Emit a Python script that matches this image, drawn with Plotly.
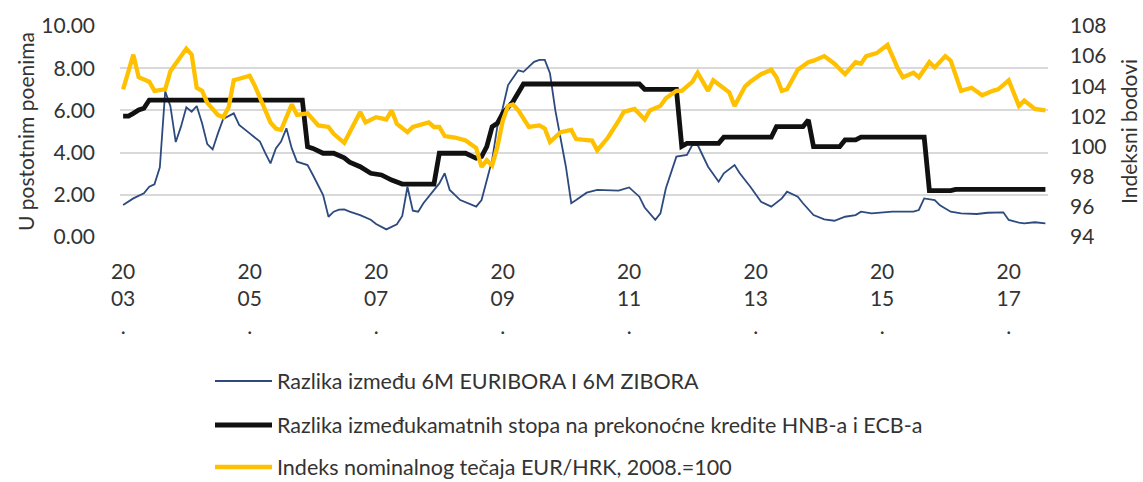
import plotly.graph_objects as go

# ---------------- data ----------------
blue_name = "Razlika između 6M EURIBORA I 6M ZIBORA"
blue_dates = ["2003-01", "2003-03", "2003-05", "2003-06", "2003-07", "2003-08", "2003-09", "2003-10",
              "2003-11", "2003-12", "2004-01", "2004-02", "2004-03", "2004-04", "2004-05", "2004-06",
              "2004-07", "2004-08", "2004-10", "2004-11", "2005-01", "2005-03", "2005-04", "2005-05",
              "2005-06", "2005-07", "2005-08", "2005-09", "2005-10", "2005-12", "2006-01", "2006-03",
              "2006-04", "2006-05", "2006-06", "2006-07", "2006-08", "2006-10", "2006-12", "2007-01",
              "2007-03", "2007-05", "2007-06", "2007-07", "2007-08", "2007-09", "2007-10", "2007-12",
              "2008-01", "2008-02", "2008-03", "2008-05", "2008-07", "2008-08", "2008-09", "2008-11",
              "2008-12", "2009-01", "2009-02", "2009-04", "2009-05", "2009-07", "2009-08", "2009-09",
              "2009-10", "2009-11", "2010-01", "2010-02", "2010-03", "2010-05", "2010-07", "2010-11",
              "2011-01", "2011-03", "2011-04", "2011-06", "2011-07", "2011-08", "2011-10", "2011-12",
              "2012-01", "2012-02", "2012-04", "2012-06", "2012-07", "2012-09", "2012-10", "2012-12",
              "2013-02", "2013-04", "2013-06", "2013-07", "2013-09", "2013-10", "2013-12", "2014-02",
              "2014-04", "2014-06", "2014-08", "2014-09", "2014-11", "2015-01", "2015-03", "2015-07",
              "2015-08", "2015-09", "2015-11", "2015-12", "2016-02", "2016-04", "2016-07", "2016-09",
              "2016-12", "2017-01", "2017-03", "2017-04", "2017-06", "2017-08"]
blue_vals = [1.52, 1.83, 2.07, 2.38, 2.5, 3.3, 6.9, 6.2,
             4.5, 5.23, 6.15, 5.94, 6.21, 5.39, 4.4, 4.15,
             4.9, 5.6, 5.86, 5.31, 4.91, 4.52, 3.97, 3.49,
             4.20, 4.52, 5.15, 4.20, 3.57, 3.41, 2.94, 1.99,
             0.96, 1.2, 1.3, 1.31, 1.20, 1.04, 0.82, 0.62,
             0.36, 0.6, 1.0, 2.38, 1.25, 1.2, 1.6, 2.23,
             2.54, 3.02, 2.23, 1.75, 1.52, 1.44, 1.75, 3.65,
             5.23, 6.1, 7.2, 7.9, 7.83, 8.3, 8.39, 8.39,
             7.76, 6.0, 3.33, 1.6, 1.75, 2.1, 2.23, 2.20,
             2.35, 1.91, 1.4, 0.81, 1.12, 2.3, 3.81, 3.89,
             4.36, 4.36, 3.33, 2.62, 3.02, 3.41, 3.02, 2.38,
             1.67, 1.44, 1.83, 2.15, 1.91, 1.6, 1.04, 0.84,
             0.77, 0.96, 1.04, 1.2, 1.12, 1.15, 1.2, 1.2,
             1.28, 1.83, 1.75, 1.5, 1.2, 1.12, 1.09, 1.15,
             1.17, 0.81, 0.68, 0.65, 0.70, 0.65]

black_name = "Razlika izmeđukamatnih stopa na prekonoćne kredite HNB-a i ECB-a"
black_dates = ["2003-01", "2003-02", "2003-03", "2003-04", "2003-05", "2003-06", "2005-11", "2005-12",
               "2006-01", "2006-03", "2006-05", "2006-07", "2006-08", "2006-10", "2006-12", "2007-02",
               "2007-04", "2007-06", "2007-12", "2008-01", "2008-06", "2008-08", "2008-09", "2008-10",
               "2008-11", "2008-12", "2009-01", "2009-03", "2009-05", "2011-03", "2011-04", "2011-10",
               "2011-11", "2011-12", "2012-06", "2012-07", "2013-04", "2013-05", "2013-10", "2013-11",
               "2013-12", "2014-05", "2014-06", "2014-08", "2014-09", "2015-09", "2015-10", "2016-02",
               "2016-03", "2017-08"]
black_vals = [5.73, 5.73, 5.86, 6.02, 6.1, 6.49, 6.49, 4.28,
              4.2, 3.97, 3.97, 3.75, 3.55, 3.33, 3.02, 2.94,
              2.70, 2.51, 2.51, 3.97, 3.97, 3.73, 3.81, 4.28,
              5.23, 5.39, 5.86, 6.41, 7.25, 7.25, 7.0, 7.0,
              4.3, 4.44, 4.44, 4.73, 4.73, 5.23, 5.23, 5.55,
              4.28, 4.28, 4.6, 4.6, 4.73, 4.73, 2.20, 2.20,
              2.26, 2.26]

yellow_name = "Indeks nominalnog tečaja EUR/HRK, 2008.=100"
yellow_dates = ["2003-01", "2003-03", "2003-04", "2003-06", "2003-07", "2003-09", "2003-10", "2003-11",
                "2004-01", "2004-02", "2004-03", "2004-04", "2004-05", "2004-07", "2004-08", "2004-09",
                "2004-10", "2004-11", "2005-01", "2005-02", "2005-04", "2005-05", "2005-06", "2005-07",
                "2005-09", "2005-10", "2005-12", "2006-01", "2006-02", "2006-04", "2006-05", "2006-07",
                "2006-08", "2006-10", "2006-11", "2007-01", "2007-03", "2007-04", "2007-05", "2007-07",
                "2007-08", "2007-11", "2007-12", "2008-01", "2008-02", "2008-04", "2008-06", "2008-08",
                "2008-09", "2008-10", "2008-11", "2008-12", "2009-01", "2009-02", "2009-03", "2009-04",
                "2009-06", "2009-08", "2009-09", "2009-10", "2009-12", "2010-02", "2010-03", "2010-06",
                "2010-07", "2010-09", "2010-11", "2010-12", "2011-02", "2011-04", "2011-05", "2011-07",
                "2011-08", "2011-10", "2011-11", "2012-01", "2012-02", "2012-04", "2012-05", "2012-07",
                "2012-08", "2012-09", "2012-11", "2012-12", "2013-02", "2013-04", "2013-05", "2013-06",
                "2013-07", "2013-09", "2013-11", "2013-12", "2014-02", "2014-04", "2014-06", "2014-08",
                "2014-09", "2014-10", "2014-12", "2015-02", "2015-03", "2015-04", "2015-05", "2015-07",
                "2015-08", "2015-10", "2015-11", "2016-01", "2016-02", "2016-04", "2016-06", "2016-08",
                "2016-10", "2016-11", "2017-01", "2017-03", "2017-04", "2017-06", "2017-08"]
yellow_vals = [103.8, 106.1, 104.6, 104.3, 103.7, 103.8, 105.0, 105.5,
               106.5, 106.1, 103.9, 103.7, 102.9, 102.1, 101.95, 102.6,
               104.4, 104.5, 104.7, 104.0, 102.4, 101.6, 101.2, 101.1,
               102.8, 102.1, 102.2, 101.8, 101.4, 101.3, 100.85, 100.25,
               100.9, 102.3, 101.6, 101.95, 101.8, 102.4, 101.5, 100.95,
               101.3, 101.6, 101.3, 101.3, 100.7, 100.6, 100.4, 99.9,
               98.65, 99.1, 98.75, 99.96, 101.7, 102.7, 102.8, 102.4,
               101.3, 101.4, 101.2, 100.3, 100.95, 101.1, 100.5, 100.4,
               99.75, 100.6, 101.7, 102.3, 102.5, 101.8, 102.4, 102.7,
               103.2, 103.7, 103.7, 104.3, 104.9, 103.7, 104.4, 103.9,
               103.6, 102.7, 104.0, 104.3, 104.8, 105.1, 104.6, 103.7,
               103.8, 105.1, 105.6, 105.7, 106.0, 105.5, 104.8, 105.6,
               105.5, 106.0, 106.2, 106.75, 106.0, 105.2, 104.6, 104.9,
               104.6, 105.6, 105.25, 106.0, 105.7, 103.7, 103.9, 103.4,
               103.7, 103.8, 104.4, 102.7, 103.05, 102.5, 102.4]

tick_dates = ["2003-01-01", "2005-01-01", "2007-01-01", "2009-01-01",
              "2011-01-01", "2013-01-01", "2015-01-01", "2017-01-01"]
tick_labels = ["20<br>03<br>.", "20<br>05<br>.", "20<br>07<br>.", "20<br>09<br>.",
               "20<br>11<br>.", "20<br>13<br>.", "20<br>15<br>.", "20<br>17<br>."]

left_ticks = [0, 2, 4, 6, 8, 10]
left_labels = ["0.00", "2.00", "4.00", "6.00", "8.00", "10.00"]
right_ticks = [94, 96, 98, 100, 102, 104, 106, 108]

left_title = "U postotnim poenima"
right_title = "Indeksni bodovi"

# ---------------- layout geometry ----------------
W, H = 1143, 482
ML, MR, MT, MB = 120, 95, 26, 245
PW, PH = W - ML - MR, H - MT - MB


def px(x):
    return (x - ML) / PW


def py(y):
    return (H - MB - y) / PH


FONT = "Lato"
TXT = "#333333"
TICKF = dict(family=FONT, size=21, color=TXT)

fig = go.Figure()
fig.add_trace(go.Scatter(x=blue_dates, y=blue_vals, name=blue_name, mode="lines",
                         line=dict(color="#2d4a7f", width=1.8), yaxis="y", legend="legend"))
fig.add_trace(go.Scatter(x=black_dates, y=black_vals, name=black_name, mode="lines",
                         line=dict(color="#111111", width=4.8), yaxis="y", legend="legend2"))
fig.add_trace(go.Scatter(x=yellow_dates, y=yellow_vals, name=yellow_name, mode="lines",
                         line=dict(color="#ffc000", width=4.3), yaxis="y2", legend="legend3"))

x_range = ["2002-12-14", "2017-08-16"]

leg_common = dict(xanchor="left", yanchor="middle", bgcolor="rgba(0,0,0,0)",
                  font=dict(family=FONT, size=21.5, color=TXT), itemclick=False, itemwidth=57)

fig.update_layout(
    width=W, height=H,
    margin=dict(l=ML, r=MR, t=MT, b=MB, pad=0, autoexpand=False),
    paper_bgcolor="white", plot_bgcolor="white",
    font=dict(family=FONT, color=TXT),
    xaxis=dict(type="date", range=x_range, tickvals=tick_dates, ticktext=tick_labels,
               showgrid=False, showline=False, zeroline=False, ticks="", tickfont=TICKF,
               tickangle=0, ticklabelstandoff=20),
    yaxis=dict(range=[0, 10], tickvals=left_ticks, ticktext=left_labels, showgrid=True,
               gridcolor="#d9d9d9", gridwidth=1.6, zeroline=False, showline=False, ticks="",
               tickfont=TICKF, ticklabelstandoff=24,
               title=dict(text=left_title, font=dict(family=FONT, size=21, color=TXT), standoff=0)),
    yaxis2=dict(range=[94, 108], tickvals=right_ticks, overlaying="y", side="right",
                showgrid=False, zeroline=False, showline=False, ticks="", tickfont=TICKF,
                ticklabelstandoff=21,
                title=dict(text=right_title, font=dict(family=FONT, size=21, color=TXT), standoff=16)),
    legend=dict(**leg_common, x=px(210), y=py(381)),
    legend2=dict(**leg_common, x=px(210), y=py(425)),
    legend3=dict(**leg_common, x=px(210), y=py(467)),
    showlegend=True,
)

fig.write_html("out.html")
